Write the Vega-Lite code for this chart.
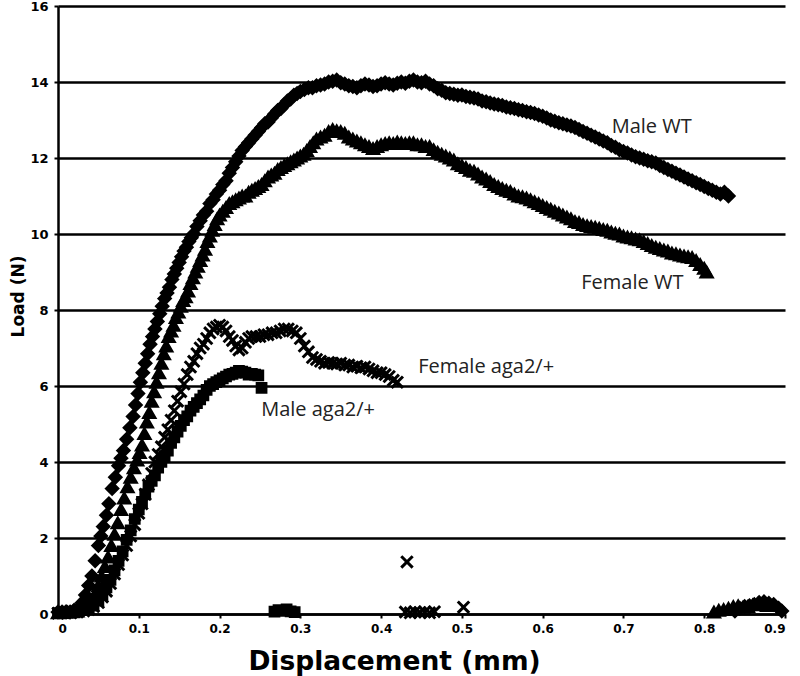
{
"$schema": "https://vega.github.io/schema/vega-lite/v6.json",
"width": 727, "height": 608,
"autosize": "none",
"padding": {"left": 58, "top": 6, "right": 15, "bottom": 62},
"background": "white",
"config": {"view": {"stroke": null}, "font": "DejaVu Sans"},
"data": {"values": [
{"s":"M","x":0,"y":0.05},{"s":"M","x":0.005,"y":0.05},{"s":"M","x":0.01,"y":0.06},{"s":"M","x":0.015,"y":0.05},{"s":"M","x":0.02,"y":0.1},{"s":"M","x":0.025,"y":0.15},{"s":"M","x":0.03,"y":0.3},{"s":"M","x":0.034,"y":0.5},{"s":"M","x":0.038,"y":0.75},{"s":"M","x":0.042,"y":1.0},{"s":"M","x":0.046,"y":1.4},{"s":"M","x":0.05,"y":1.8},{"s":"M","x":0.053,"y":2.05},{"s":"M","x":0.056,"y":2.3},{"s":"M","x":0.06,"y":2.6},{"s":"M","x":0.063,"y":2.9},{"s":"M","x":0.067,"y":3.3},{"s":"M","x":0.071,"y":3.6},{"s":"M","x":0.075,"y":3.9},{"s":"M","x":0.078,"y":4.1},{"s":"M","x":0.081,"y":4.3},{"s":"M","x":0.085,"y":4.6},{"s":"M","x":0.089,"y":4.9},{"s":"M","x":0.093,"y":5.2},{"s":"M","x":0.096,"y":5.5},{"s":"M","x":0.099,"y":5.8},{"s":"M","x":0.102,"y":6.1},{"s":"M","x":0.105,"y":6.35},{"s":"M","x":0.108,"y":6.6},{"s":"M","x":0.111,"y":6.85},{"s":"M","x":0.114,"y":7.1},{"s":"M","x":0.117,"y":7.3},{"s":"M","x":0.12,"y":7.5},{"s":"M","x":0.123,"y":7.7},{"s":"M","x":0.126,"y":7.9},{"s":"M","x":0.129,"y":8.1},{"s":"M","x":0.132,"y":8.3},{"s":"M","x":0.135,"y":8.45},{"s":"M","x":0.138,"y":8.6},{"s":"M","x":0.141,"y":8.8},{"s":"M","x":0.144,"y":8.95},{"s":"M","x":0.147,"y":9.1},{"s":"M","x":0.15,"y":9.25},{"s":"M","x":0.153,"y":9.4},{"s":"M","x":0.156,"y":9.55},{"s":"M","x":0.159,"y":9.65},{"s":"M","x":0.162,"y":9.8},{"s":"M","x":0.165,"y":9.9},{"s":"M","x":0.168,"y":10.0},{"s":"M","x":0.172,"y":10.2},{"s":"M","x":0.176,"y":10.35},{"s":"M","x":0.18,"y":10.5},{"s":"M","x":0.184,"y":10.6},{"s":"M","x":0.188,"y":10.8},{"s":"M","x":0.192,"y":10.9},{"s":"M","x":0.196,"y":11.05},{"s":"M","x":0.2,"y":11.15},{"s":"M","x":0.204,"y":11.3},{"s":"M","x":0.208,"y":11.4},{"s":"M","x":0.212,"y":11.6},{"s":"M","x":0.216,"y":11.75},{"s":"M","x":0.22,"y":11.9},{"s":"M","x":0.224,"y":12.05},{"s":"M","x":0.228,"y":12.2},{"s":"M","x":0.232,"y":12.3},{"s":"M","x":0.236,"y":12.4},{"s":"M","x":0.24,"y":12.5},{"s":"M","x":0.244,"y":12.6},{"s":"M","x":0.248,"y":12.7},{"s":"M","x":0.252,"y":12.8},{"s":"M","x":0.256,"y":12.9},{"s":"M","x":0.26,"y":12.95},{"s":"M","x":0.264,"y":13.05},{"s":"M","x":0.268,"y":13.15},{"s":"M","x":0.272,"y":13.25},{"s":"M","x":0.276,"y":13.3},{"s":"M","x":0.28,"y":13.4},{"s":"M","x":0.284,"y":13.5},{"s":"M","x":0.288,"y":13.55},{"s":"M","x":0.292,"y":13.65},{"s":"M","x":0.296,"y":13.7},{"s":"M","x":0.3,"y":13.75},{"s":"M","x":0.305,"y":13.8},{"s":"M","x":0.31,"y":13.85},{"s":"M","x":0.315,"y":13.85},{"s":"M","x":0.32,"y":13.9},{"s":"M","x":0.325,"y":13.92},{"s":"M","x":0.33,"y":13.95},{"s":"M","x":0.335,"y":14.0},{"s":"M","x":0.34,"y":14.02},{"s":"M","x":0.345,"y":14.05},{"s":"M","x":0.35,"y":13.98},{"s":"M","x":0.355,"y":13.95},{"s":"M","x":0.36,"y":13.9},{"s":"M","x":0.365,"y":13.88},{"s":"M","x":0.37,"y":13.85},{"s":"M","x":0.375,"y":13.9},{"s":"M","x":0.38,"y":13.95},{"s":"M","x":0.385,"y":13.92},{"s":"M","x":0.39,"y":13.88},{"s":"M","x":0.395,"y":13.9},{"s":"M","x":0.4,"y":13.95},{"s":"M","x":0.405,"y":13.98},{"s":"M","x":0.41,"y":13.95},{"s":"M","x":0.415,"y":13.92},{"s":"M","x":0.42,"y":13.97},{"s":"M","x":0.425,"y":14.0},{"s":"M","x":0.43,"y":13.97},{"s":"M","x":0.435,"y":14.02},{"s":"M","x":0.44,"y":14.05},{"s":"M","x":0.445,"y":14.0},{"s":"M","x":0.45,"y":13.98},{"s":"M","x":0.455,"y":14.02},{"s":"M","x":0.46,"y":13.95},{"s":"M","x":0.465,"y":13.9},{"s":"M","x":0.47,"y":13.82},{"s":"M","x":0.475,"y":13.78},{"s":"M","x":0.48,"y":13.72},{"s":"M","x":0.485,"y":13.7},{"s":"M","x":0.49,"y":13.68},{"s":"M","x":0.495,"y":13.65},{"s":"M","x":0.5,"y":13.66},{"s":"M","x":0.505,"y":13.62},{"s":"M","x":0.51,"y":13.6},{"s":"M","x":0.515,"y":13.58},{"s":"M","x":0.52,"y":13.55},{"s":"M","x":0.525,"y":13.5},{"s":"M","x":0.53,"y":13.48},{"s":"M","x":0.535,"y":13.45},{"s":"M","x":0.54,"y":13.42},{"s":"M","x":0.545,"y":13.4},{"s":"M","x":0.55,"y":13.38},{"s":"M","x":0.555,"y":13.34},{"s":"M","x":0.56,"y":13.32},{"s":"M","x":0.565,"y":13.3},{"s":"M","x":0.57,"y":13.27},{"s":"M","x":0.575,"y":13.25},{"s":"M","x":0.58,"y":13.22},{"s":"M","x":0.585,"y":13.2},{"s":"M","x":0.59,"y":13.17},{"s":"M","x":0.595,"y":13.13},{"s":"M","x":0.6,"y":13.1},{"s":"M","x":0.605,"y":13.05},{"s":"M","x":0.61,"y":13.0},{"s":"M","x":0.615,"y":12.97},{"s":"M","x":0.62,"y":12.93},{"s":"M","x":0.625,"y":12.9},{"s":"M","x":0.63,"y":12.87},{"s":"M","x":0.635,"y":12.84},{"s":"M","x":0.64,"y":12.8},{"s":"M","x":0.645,"y":12.75},{"s":"M","x":0.65,"y":12.7},{"s":"M","x":0.655,"y":12.65},{"s":"M","x":0.66,"y":12.6},{"s":"M","x":0.665,"y":12.55},{"s":"M","x":0.67,"y":12.5},{"s":"M","x":0.675,"y":12.45},{"s":"M","x":0.68,"y":12.4},{"s":"M","x":0.685,"y":12.33},{"s":"M","x":0.69,"y":12.28},{"s":"M","x":0.695,"y":12.22},{"s":"M","x":0.7,"y":12.17},{"s":"M","x":0.705,"y":12.13},{"s":"M","x":0.71,"y":12.08},{"s":"M","x":0.715,"y":12.03},{"s":"M","x":0.72,"y":12.0},{"s":"M","x":0.725,"y":11.97},{"s":"M","x":0.73,"y":11.93},{"s":"M","x":0.735,"y":11.9},{"s":"M","x":0.74,"y":11.87},{"s":"M","x":0.745,"y":11.8},{"s":"M","x":0.75,"y":11.75},{"s":"M","x":0.755,"y":11.7},{"s":"M","x":0.76,"y":11.65},{"s":"M","x":0.765,"y":11.6},{"s":"M","x":0.77,"y":11.55},{"s":"M","x":0.775,"y":11.5},{"s":"M","x":0.78,"y":11.45},{"s":"M","x":0.785,"y":11.4},{"s":"M","x":0.79,"y":11.35},{"s":"M","x":0.795,"y":11.3},{"s":"M","x":0.8,"y":11.25},{"s":"M","x":0.805,"y":11.2},{"s":"M","x":0.81,"y":11.15},{"s":"M","x":0.815,"y":11.1},{"s":"M","x":0.82,"y":11.05},{"s":"M","x":0.825,"y":11.1},{"s":"M","x":0.83,"y":11.0},
{"s":"M","x":0.838,"y":0.08},{"s":"M","x":0.844,"y":0.15},{"s":"M","x":0.85,"y":0.2},{"s":"M","x":0.856,"y":0.22},{"s":"M","x":0.862,"y":0.25},{"s":"M","x":0.868,"y":0.3},{"s":"M","x":0.874,"y":0.32},{"s":"M","x":0.88,"y":0.28},{"s":"M","x":0.886,"y":0.25},{"s":"M","x":0.892,"y":0.15},{"s":"M","x":0.896,"y":0.08},
{"s":"F","x":0,"y":0.03},{"s":"F","x":0.006,"y":0.04},{"s":"F","x":0.012,"y":0.05},{"s":"F","x":0.018,"y":0.06},{"s":"F","x":0.024,"y":0.08},{"s":"F","x":0.03,"y":0.12},{"s":"F","x":0.035,"y":0.2},{"s":"F","x":0.04,"y":0.35},{"s":"F","x":0.045,"y":0.5},{"s":"F","x":0.05,"y":0.75},{"s":"F","x":0.054,"y":1.0},{"s":"F","x":0.058,"y":1.25},{"s":"F","x":0.062,"y":1.5},{"s":"F","x":0.066,"y":1.8},{"s":"F","x":0.07,"y":2.1},{"s":"F","x":0.074,"y":2.4},{"s":"F","x":0.078,"y":2.75},{"s":"F","x":0.082,"y":3.05},{"s":"F","x":0.086,"y":3.35},{"s":"F","x":0.09,"y":3.6},{"s":"F","x":0.094,"y":3.85},{"s":"F","x":0.098,"y":4.05},{"s":"F","x":0.101,"y":4.25},{"s":"F","x":0.104,"y":4.45},{"s":"F","x":0.107,"y":4.75},{"s":"F","x":0.11,"y":5.05},{"s":"F","x":0.113,"y":5.3},{"s":"F","x":0.116,"y":5.6},{"s":"F","x":0.119,"y":5.85},{"s":"F","x":0.122,"y":6.1},{"s":"F","x":0.125,"y":6.35},{"s":"F","x":0.128,"y":6.6},{"s":"F","x":0.131,"y":6.85},{"s":"F","x":0.134,"y":7.05},{"s":"F","x":0.137,"y":7.3},{"s":"F","x":0.14,"y":7.45},{"s":"F","x":0.143,"y":7.6},{"s":"F","x":0.146,"y":7.8},{"s":"F","x":0.149,"y":7.95},{"s":"F","x":0.152,"y":8.1},{"s":"F","x":0.155,"y":8.25},{"s":"F","x":0.158,"y":8.35},{"s":"F","x":0.161,"y":8.5},{"s":"F","x":0.164,"y":8.7},{"s":"F","x":0.167,"y":8.85},{"s":"F","x":0.17,"y":9.0},{"s":"F","x":0.173,"y":9.15},{"s":"F","x":0.176,"y":9.3},{"s":"F","x":0.179,"y":9.45},{"s":"F","x":0.182,"y":9.6},{"s":"F","x":0.185,"y":9.8},{"s":"F","x":0.188,"y":9.95},{"s":"F","x":0.191,"y":10.1},{"s":"F","x":0.194,"y":10.25},{"s":"F","x":0.197,"y":10.4},{"s":"F","x":0.2,"y":10.5},{"s":"F","x":0.204,"y":10.6},{"s":"F","x":0.208,"y":10.7},{"s":"F","x":0.212,"y":10.8},{"s":"F","x":0.216,"y":10.85},{"s":"F","x":0.22,"y":10.9},{"s":"F","x":0.224,"y":10.95},{"s":"F","x":0.228,"y":11.0},{"s":"F","x":0.232,"y":11.0},{"s":"F","x":0.236,"y":11.1},{"s":"F","x":0.24,"y":11.15},{"s":"F","x":0.244,"y":11.2},{"s":"F","x":0.248,"y":11.25},{"s":"F","x":0.252,"y":11.3},{"s":"F","x":0.256,"y":11.4},{"s":"F","x":0.26,"y":11.5},{"s":"F","x":0.264,"y":11.55},{"s":"F","x":0.268,"y":11.6},{"s":"F","x":0.272,"y":11.7},{"s":"F","x":0.276,"y":11.75},{"s":"F","x":0.28,"y":11.8},{"s":"F","x":0.284,"y":11.85},{"s":"F","x":0.288,"y":11.9},{"s":"F","x":0.292,"y":11.95},{"s":"F","x":0.296,"y":12.0},{"s":"F","x":0.3,"y":12.05},{"s":"F","x":0.304,"y":12.1},{"s":"F","x":0.308,"y":12.2},{"s":"F","x":0.312,"y":12.3},{"s":"F","x":0.316,"y":12.4},{"s":"F","x":0.32,"y":12.5},{"s":"F","x":0.325,"y":12.55},{"s":"F","x":0.33,"y":12.6},{"s":"F","x":0.335,"y":12.7},{"s":"F","x":0.34,"y":12.75},{"s":"F","x":0.345,"y":12.72},{"s":"F","x":0.35,"y":12.7},{"s":"F","x":0.355,"y":12.65},{"s":"F","x":0.36,"y":12.55},{"s":"F","x":0.365,"y":12.5},{"s":"F","x":0.37,"y":12.45},{"s":"F","x":0.375,"y":12.4},{"s":"F","x":0.38,"y":12.35},{"s":"F","x":0.385,"y":12.3},{"s":"F","x":0.39,"y":12.25},{"s":"F","x":0.395,"y":12.3},{"s":"F","x":0.4,"y":12.35},{"s":"F","x":0.405,"y":12.38},{"s":"F","x":0.41,"y":12.4},{"s":"F","x":0.415,"y":12.38},{"s":"F","x":0.42,"y":12.42},{"s":"F","x":0.425,"y":12.4},{"s":"F","x":0.43,"y":12.38},{"s":"F","x":0.435,"y":12.4},{"s":"F","x":0.44,"y":12.4},{"s":"F","x":0.445,"y":12.35},{"s":"F","x":0.45,"y":12.35},{"s":"F","x":0.455,"y":12.3},{"s":"F","x":0.46,"y":12.3},{"s":"F","x":0.465,"y":12.22},{"s":"F","x":0.47,"y":12.15},{"s":"F","x":0.475,"y":12.1},{"s":"F","x":0.48,"y":12.05},{"s":"F","x":0.485,"y":12.0},{"s":"F","x":0.49,"y":11.95},{"s":"F","x":0.495,"y":11.85},{"s":"F","x":0.5,"y":11.8},{"s":"F","x":0.505,"y":11.75},{"s":"F","x":0.51,"y":11.68},{"s":"F","x":0.515,"y":11.65},{"s":"F","x":0.52,"y":11.58},{"s":"F","x":0.525,"y":11.5},{"s":"F","x":0.53,"y":11.45},{"s":"F","x":0.535,"y":11.38},{"s":"F","x":0.54,"y":11.3},{"s":"F","x":0.545,"y":11.25},{"s":"F","x":0.55,"y":11.2},{"s":"F","x":0.555,"y":11.15},{"s":"F","x":0.56,"y":11.12},{"s":"F","x":0.565,"y":11.05},{"s":"F","x":0.57,"y":11.0},{"s":"F","x":0.575,"y":10.98},{"s":"F","x":0.58,"y":10.95},{"s":"F","x":0.585,"y":10.9},{"s":"F","x":0.59,"y":10.85},{"s":"F","x":0.595,"y":10.8},{"s":"F","x":0.6,"y":10.75},{"s":"F","x":0.605,"y":10.7},{"s":"F","x":0.61,"y":10.65},{"s":"F","x":0.615,"y":10.6},{"s":"F","x":0.62,"y":10.55},{"s":"F","x":0.625,"y":10.5},{"s":"F","x":0.63,"y":10.45},{"s":"F","x":0.635,"y":10.4},{"s":"F","x":0.64,"y":10.33},{"s":"F","x":0.645,"y":10.3},{"s":"F","x":0.65,"y":10.25},{"s":"F","x":0.655,"y":10.22},{"s":"F","x":0.66,"y":10.2},{"s":"F","x":0.665,"y":10.18},{"s":"F","x":0.67,"y":10.15},{"s":"F","x":0.675,"y":10.12},{"s":"F","x":0.68,"y":10.1},{"s":"F","x":0.685,"y":10.05},{"s":"F","x":0.69,"y":10.02},{"s":"F","x":0.695,"y":10.0},{"s":"F","x":0.7,"y":9.95},{"s":"F","x":0.705,"y":9.92},{"s":"F","x":0.71,"y":9.9},{"s":"F","x":0.715,"y":9.87},{"s":"F","x":0.72,"y":9.85},{"s":"F","x":0.725,"y":9.8},{"s":"F","x":0.73,"y":9.75},{"s":"F","x":0.735,"y":9.7},{"s":"F","x":0.74,"y":9.65},{"s":"F","x":0.745,"y":9.62},{"s":"F","x":0.75,"y":9.58},{"s":"F","x":0.755,"y":9.55},{"s":"F","x":0.76,"y":9.5},{"s":"F","x":0.765,"y":9.48},{"s":"F","x":0.77,"y":9.45},{"s":"F","x":0.775,"y":9.42},{"s":"F","x":0.78,"y":9.4},{"s":"F","x":0.785,"y":9.38},{"s":"F","x":0.79,"y":9.3},{"s":"F","x":0.795,"y":9.2},{"s":"F","x":0.8,"y":9.1},{"s":"F","x":0.803,"y":9.0},
{"s":"F","x":0.812,"y":0.05},{"s":"F","x":0.818,"y":0.1},{"s":"F","x":0.824,"y":0.12},{"s":"F","x":0.83,"y":0.15},{"s":"F","x":0.836,"y":0.2},{"s":"F","x":0.842,"y":0.22},{"s":"F","x":0.848,"y":0.18},{"s":"F","x":0.854,"y":0.2},{"s":"F","x":0.86,"y":0.24},{"s":"F","x":0.866,"y":0.27},{"s":"F","x":0.872,"y":0.25},{"s":"F","x":0.878,"y":0.22},
{"s":"FA","x":0,"y":0.02},{"s":"FA","x":0.008,"y":0.03},{"s":"FA","x":0.016,"y":0.03},{"s":"FA","x":0.024,"y":0.05},{"s":"FA","x":0.032,"y":0.08},{"s":"FA","x":0.038,"y":0.12},{"s":"FA","x":0.044,"y":0.2},{"s":"FA","x":0.05,"y":0.3},{"s":"FA","x":0.055,"y":0.45},{"s":"FA","x":0.06,"y":0.6},{"s":"FA","x":0.065,"y":0.8},{"s":"FA","x":0.07,"y":1.05},{"s":"FA","x":0.075,"y":1.3},{"s":"FA","x":0.08,"y":1.55},{"s":"FA","x":0.085,"y":1.8},{"s":"FA","x":0.09,"y":2.05},{"s":"FA","x":0.095,"y":2.35},{"s":"FA","x":0.1,"y":2.65},{"s":"FA","x":0.104,"y":2.9},{"s":"FA","x":0.108,"y":3.15},{"s":"FA","x":0.112,"y":3.4},{"s":"FA","x":0.116,"y":3.7},{"s":"FA","x":0.12,"y":4.0},{"s":"FA","x":0.124,"y":4.2},{"s":"FA","x":0.128,"y":4.4},{"s":"FA","x":0.132,"y":4.65},{"s":"FA","x":0.136,"y":4.85},{"s":"FA","x":0.14,"y":5.1},{"s":"FA","x":0.144,"y":5.35},{"s":"FA","x":0.148,"y":5.6},{"s":"FA","x":0.152,"y":5.85},{"s":"FA","x":0.156,"y":6.05},{"s":"FA","x":0.16,"y":6.3},{"s":"FA","x":0.164,"y":6.5},{"s":"FA","x":0.168,"y":6.65},{"s":"FA","x":0.172,"y":6.85},{"s":"FA","x":0.176,"y":7.0},{"s":"FA","x":0.18,"y":7.1},{"s":"FA","x":0.184,"y":7.25},{"s":"FA","x":0.188,"y":7.4},{"s":"FA","x":0.192,"y":7.5},{"s":"FA","x":0.196,"y":7.55},{"s":"FA","x":0.2,"y":7.6},{"s":"FA","x":0.204,"y":7.55},{"s":"FA","x":0.208,"y":7.45},{"s":"FA","x":0.212,"y":7.3},{"s":"FA","x":0.216,"y":7.2},{"s":"FA","x":0.22,"y":7.05},{"s":"FA","x":0.224,"y":6.95},{"s":"FA","x":0.228,"y":7.0},{"s":"FA","x":0.232,"y":7.15},{"s":"FA","x":0.236,"y":7.25},{"s":"FA","x":0.24,"y":7.3},{"s":"FA","x":0.245,"y":7.3},{"s":"FA","x":0.25,"y":7.3},{"s":"FA","x":0.255,"y":7.35},{"s":"FA","x":0.26,"y":7.35},{"s":"FA","x":0.265,"y":7.4},{"s":"FA","x":0.27,"y":7.4},{"s":"FA","x":0.275,"y":7.45},{"s":"FA","x":0.28,"y":7.5},{"s":"FA","x":0.285,"y":7.5},{"s":"FA","x":0.29,"y":7.45},{"s":"FA","x":0.295,"y":7.4},{"s":"FA","x":0.3,"y":7.25},{"s":"FA","x":0.305,"y":7.05},{"s":"FA","x":0.31,"y":6.9},{"s":"FA","x":0.315,"y":6.75},{"s":"FA","x":0.32,"y":6.7},{"s":"FA","x":0.325,"y":6.65},{"s":"FA","x":0.33,"y":6.6},{"s":"FA","x":0.335,"y":6.62},{"s":"FA","x":0.34,"y":6.6},{"s":"FA","x":0.345,"y":6.58},{"s":"FA","x":0.35,"y":6.6},{"s":"FA","x":0.355,"y":6.55},{"s":"FA","x":0.36,"y":6.55},{"s":"FA","x":0.365,"y":6.5},{"s":"FA","x":0.37,"y":6.52},{"s":"FA","x":0.375,"y":6.48},{"s":"FA","x":0.38,"y":6.5},{"s":"FA","x":0.385,"y":6.45},{"s":"FA","x":0.39,"y":6.4},{"s":"FA","x":0.395,"y":6.35},{"s":"FA","x":0.4,"y":6.35},{"s":"FA","x":0.405,"y":6.3},{"s":"FA","x":0.41,"y":6.25},{"s":"FA","x":0.415,"y":6.15},{"s":"FA","x":0.42,"y":6.1},
{"s":"FA","x":0.43,"y":0.05},{"s":"FA","x":0.436,"y":0.03},{"s":"FA","x":0.442,"y":0.06},{"s":"FA","x":0.448,"y":0.04},{"s":"FA","x":0.454,"y":0.05},{"s":"FA","x":0.46,"y":0.03},{"s":"FA","x":0.466,"y":0.06},{"s":"FA","x":0.432,"y":1.37},{"s":"FA","x":0.502,"y":0.18},
{"s":"MA","x":0,"y":0.02},{"s":"MA","x":0.008,"y":0.02},{"s":"MA","x":0.016,"y":0.04},{"s":"MA","x":0.024,"y":0.06},{"s":"MA","x":0.032,"y":0.1},{"s":"MA","x":0.038,"y":0.15},{"s":"MA","x":0.044,"y":0.22},{"s":"MA","x":0.05,"y":0.35},{"s":"MA","x":0.055,"y":0.5},{"s":"MA","x":0.06,"y":0.7},{"s":"MA","x":0.065,"y":0.9},{"s":"MA","x":0.07,"y":1.15},{"s":"MA","x":0.075,"y":1.4},{"s":"MA","x":0.08,"y":1.65},{"s":"MA","x":0.085,"y":1.95},{"s":"MA","x":0.09,"y":2.2},{"s":"MA","x":0.095,"y":2.5},{"s":"MA","x":0.1,"y":2.75},{"s":"MA","x":0.104,"y":2.95},{"s":"MA","x":0.108,"y":3.15},{"s":"MA","x":0.112,"y":3.35},{"s":"MA","x":0.116,"y":3.5},{"s":"MA","x":0.12,"y":3.65},{"s":"MA","x":0.124,"y":3.85},{"s":"MA","x":0.128,"y":4.0},{"s":"MA","x":0.132,"y":4.15},{"s":"MA","x":0.136,"y":4.3},{"s":"MA","x":0.14,"y":4.5},{"s":"MA","x":0.144,"y":4.65},{"s":"MA","x":0.148,"y":4.8},{"s":"MA","x":0.152,"y":4.95},{"s":"MA","x":0.156,"y":5.1},{"s":"MA","x":0.16,"y":5.2},{"s":"MA","x":0.164,"y":5.35},{"s":"MA","x":0.168,"y":5.45},{"s":"MA","x":0.172,"y":5.55},{"s":"MA","x":0.176,"y":5.65},{"s":"MA","x":0.18,"y":5.75},{"s":"MA","x":0.184,"y":5.9},{"s":"MA","x":0.188,"y":6.0},{"s":"MA","x":0.192,"y":6.05},{"s":"MA","x":0.196,"y":6.1},{"s":"MA","x":0.2,"y":6.15},{"s":"MA","x":0.204,"y":6.2},{"s":"MA","x":0.208,"y":6.25},{"s":"MA","x":0.212,"y":6.3},{"s":"MA","x":0.216,"y":6.32},{"s":"MA","x":0.22,"y":6.35},{"s":"MA","x":0.224,"y":6.4},{"s":"MA","x":0.228,"y":6.38},{"s":"MA","x":0.232,"y":6.35},{"s":"MA","x":0.236,"y":6.3},{"s":"MA","x":0.24,"y":6.32},{"s":"MA","x":0.244,"y":6.3},{"s":"MA","x":0.248,"y":6.28},{"s":"MA","x":0.252,"y":5.95},
{"s":"MA","x":0.268,"y":0.06},{"s":"MA","x":0.273,"y":0.1},{"s":"MA","x":0.278,"y":0.08},{"s":"MA","x":0.283,"y":0.12},{"s":"MA","x":0.288,"y":0.07},{"s":"MA","x":0.293,"y":0.05}
]},
"layer": [
{
"transform": [{"filter": "datum.s !== 'FA'"}],
"mark": {"type": "point", "filled": true, "fill": "black", "stroke": "black", "strokeWidth": 2, "opacity": 1},
"encoding": {
"x": {"field": "x", "type": "quantitative", "scale": {"domain": [0, 0.9], "nice": false, "zero": false},
"axis": {"values": [0,0.1,0.2,0.3,0.4,0.5,0.6,0.7,0.8,0.9], "format": ".1~f", "grid": false, "domainColor": "black", "domainWidth": 2.5, "tickColor": "black", "tickSize": 4, "tickWidth": 2, "labelFont": "DejaVu Sans", "labelFontWeight": "bold", "labelFontSize": 12, "labelColor": "black", "labelPadding": 5, "title": "Displacement (mm)", "titleFont": "DejaVu Sans", "titleFontWeight": "bold", "titleFontSize": 26.5, "titleColor": "black", "titleX": 336, "titleY": 47, "titleAlign": "center", "titleBaseline": "middle"}},
"y": {"field": "y", "type": "quantitative", "scale": {"domain": [0, 16], "nice": false},
"axis": {"values": [0,2,4,6,8,10,12,14,16], "grid": true, "gridColor": "black", "gridWidth": 2.5, "gridOpacity": 1, "domainColor": "black", "domainWidth": 2.5, "tickColor": "black", "tickSize": 4, "tickWidth": 2, "labelFont": "DejaVu Sans", "labelFontWeight": "bold", "labelFontSize": 13, "labelColor": "black", "labelPadding": 6, "title": "Load (N)", "titleFont": "DejaVu Sans", "titleFontWeight": "bold", "titleFontSize": 17, "titleColor": "black", "titleX": -40, "titleY": 290, "titleAngle": -90, "titleAlign": "center", "titleBaseline": "middle"}},
"shape": {"field": "s", "type": "nominal", "scale": {"domain": ["M", "F", "MA"], "range": ["diamond", "triangle-up", "square"]}, "legend": null},
"size": {"field": "s", "type": "nominal", "scale": {"type": "ordinal", "domain": ["M", "F", "MA"], "range": [160, 160, 95]}, "legend": null}
}
},
{
"transform": [{"filter": "datum.s === 'FA'"}],
"mark": {"type": "point", "shape": "M-1,-1L1,1M-1,1L1,-1", "filled": false, "stroke": "black", "strokeWidth": 3, "opacity": 1, "size": 130},
"encoding": {
"x": {"field": "x", "type": "quantitative"},
"y": {"field": "y", "type": "quantitative"}
}
},
{
"data": {"values": [
{"t": "Male WT", "x": 0.735, "y": 12.82},
{"t": "Female WT", "x": 0.711, "y": 8.71},
{"t": "Female aga2/+", "x": 0.53, "y": 6.5},
{"t": "Male aga2/+", "x": 0.322, "y": 5.37}
]},
"mark": {"type": "text", "font": "Open Sans", "fontSize": 20, "color": "#222", "align": "center", "baseline": "middle"},
"encoding": {
"x": {"field": "x", "type": "quantitative"},
"y": {"field": "y", "type": "quantitative"},
"text": {"field": "t"}
}
}
]
}
